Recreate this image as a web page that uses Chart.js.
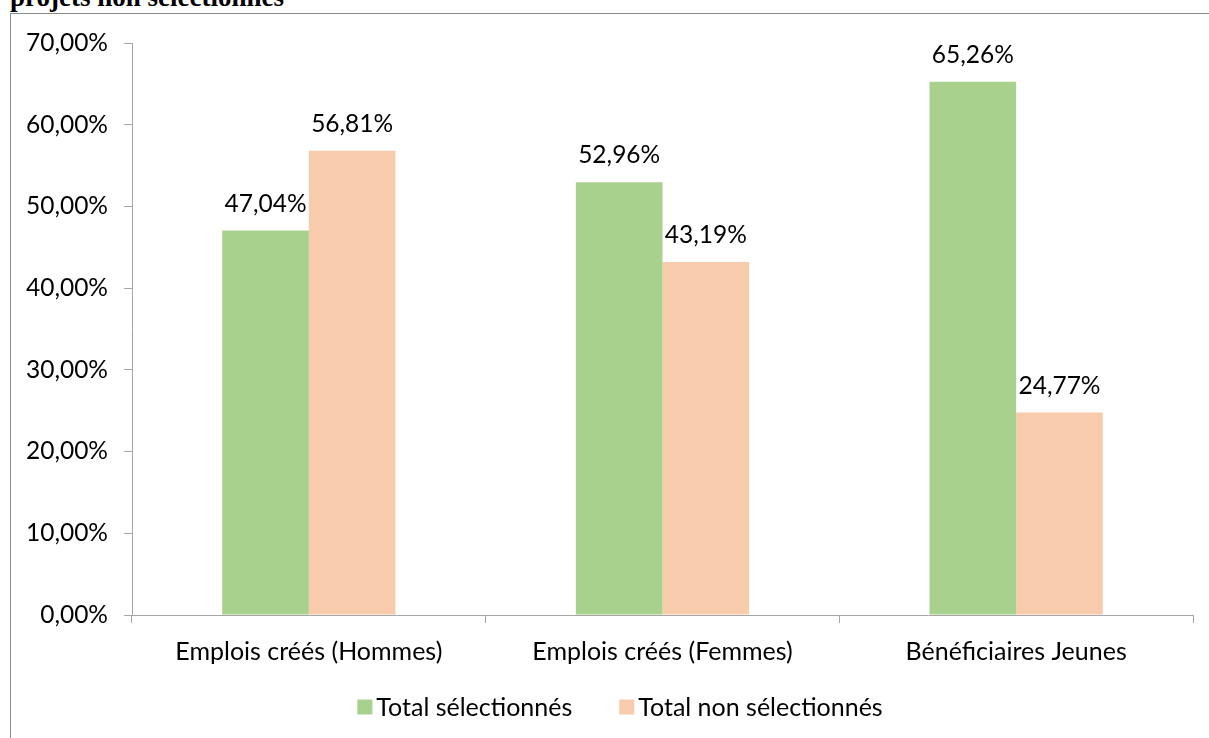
<!DOCTYPE html>
<html>
<head>
<meta charset="utf-8">
<script src="https://cdn.jsdelivr.net/npm/chart.js@4"></script>
<style>
  html, body { margin: 0; padding: 0; background: #fff; overflow: hidden; }
  #wrap { position: relative; width: 1209px; height: 738px; }
  #frame {
    position: absolute; left: 10px; top: 13px; width: 1210px; height: 740px;
    border-left: 1px solid #8c8c8c; border-top: 1px solid #8c8c8c; box-sizing: border-box;
  }
  #head {
    position: absolute; left: 10px; top: -16px; font: bold 27px "Liberation Serif", serif;
    line-height: 27px; color: #000; white-space: nowrap;
  }
  canvas { position: absolute; left: 0; top: 0; }
</style>
</head>
<body>
<div id="wrap">
  <div id="head">projets non sélectionnés</div>
  <div id="frame"></div>
  <canvas id="barChart" width="1209" height="738"></canvas>
</div>
<script>
'use strict';

const categories = ['Emplois créés (Hommes)', 'Emplois créés (Femmes)', 'Bénéficiaires Jeunes'];
const selected = [47.04, 52.96, 65.26];
const notSelected = [56.81, 43.19, 24.77];
const yTicks = [0, 10, 20, 30, 40, 50, 60, 70];

const FONT = 'Lato, "Open Sans", sans-serif';
const fmt = v => v.toFixed(2).replace('.', ',') + '%';

// value labels above each bar
const barLabels = {
  id: 'barLabels',
  afterDatasetsDraw(chart) {
    const ctx = chart.ctx;
    ctx.save();
    ctx.font = '24.5px ' + FONT;
    ctx.fillStyle = '#000';
    ctx.textAlign = 'center';
    ctx.textBaseline = 'alphabetic';
    chart.data.datasets.forEach((ds, i) => {
      chart.getDatasetMeta(i).data.forEach((bar, j) => {
        ctx.fillText(fmt(ds.data[j]), bar.x, bar.y - 19);
      });
    });
    ctx.restore();
  }
};

// legend drawn by hand, wider gap between items than the built-in one
const bottomLegend = {
  id: 'bottomLegend',
  afterDraw(chart) {
    const ctx = chart.ctx;
    const box = 15, gapText = 4, gapItem = 47, y = 707;
    ctx.save();
    ctx.font = '25px ' + FONT;
    ctx.textBaseline = 'middle';
    const items = chart.data.datasets.map(ds => ({ text: ds.label, color: ds.backgroundColor }));
    const widths = items.map(it => box + gapText + ctx.measureText(it.text).width);
    const total = widths.reduce((a, b) => a + b, 0) + gapItem * (items.length - 1);
    let x = 620 - total / 2;
    items.forEach((it, i) => {
      ctx.fillStyle = it.color;
      ctx.fillRect(x, y - box / 2, box, box);
      ctx.fillStyle = '#000';
      ctx.fillText(it.text, x + box + gapText, y + 1);
      x += widths[i] + gapItem;
    });
    ctx.restore();
  }
};

document.addEventListener('DOMContentLoaded', () => {
  const ctx = document.getElementById('barChart').getContext('2d');
  new Chart(ctx, {
    type: 'bar',
    data: {
      labels: categories,
      datasets: [{
        label: 'Total sélectionnés',
        data: selected,
        backgroundColor: '#a9d18e'
      }, {
        label: 'Total non sélectionnés',
        data: notSelected,
        backgroundColor: '#f8cbad'
      }]
    },
    options: {
      responsive: false,
      animation: false,
      layout: { padding: { top: 43, right: 16, bottom: 50, left: 0 } },
      datasets: { bar: { categoryPercentage: 0.49, barPercentage: 1.0 } },
      plugins: { legend: { display: false }, tooltip: { enabled: false } },
      scales: {
        x: {
          grid: { drawOnChartArea: false, color: '#a6a6a6', tickLength: 8, offset: true },
          border: { color: '#a6a6a6' },
          ticks: { color: '#000', font: { family: FONT, size: 25 }, padding: 14 },
          afterFit: s => { s.height = 73; }
        },
        y: {
          min: 0, max: 70,
          afterBuildTicks: s => { s.ticks = yTicks.map(v => ({ value: v })); },
          grid: { drawOnChartArea: false, color: '#a6a6a6', tickLength: 8 },
          border: { color: '#a6a6a6' },
          ticks: { color: '#000', font: { family: FONT, size: 24.5 }, padding: 16, callback: v => fmt(v) },
          afterFit: s => { s.width = 132; }
        }
      }
    },
    plugins: [barLabels, bottomLegend]
  });
});
</script>
</body>
</html>
